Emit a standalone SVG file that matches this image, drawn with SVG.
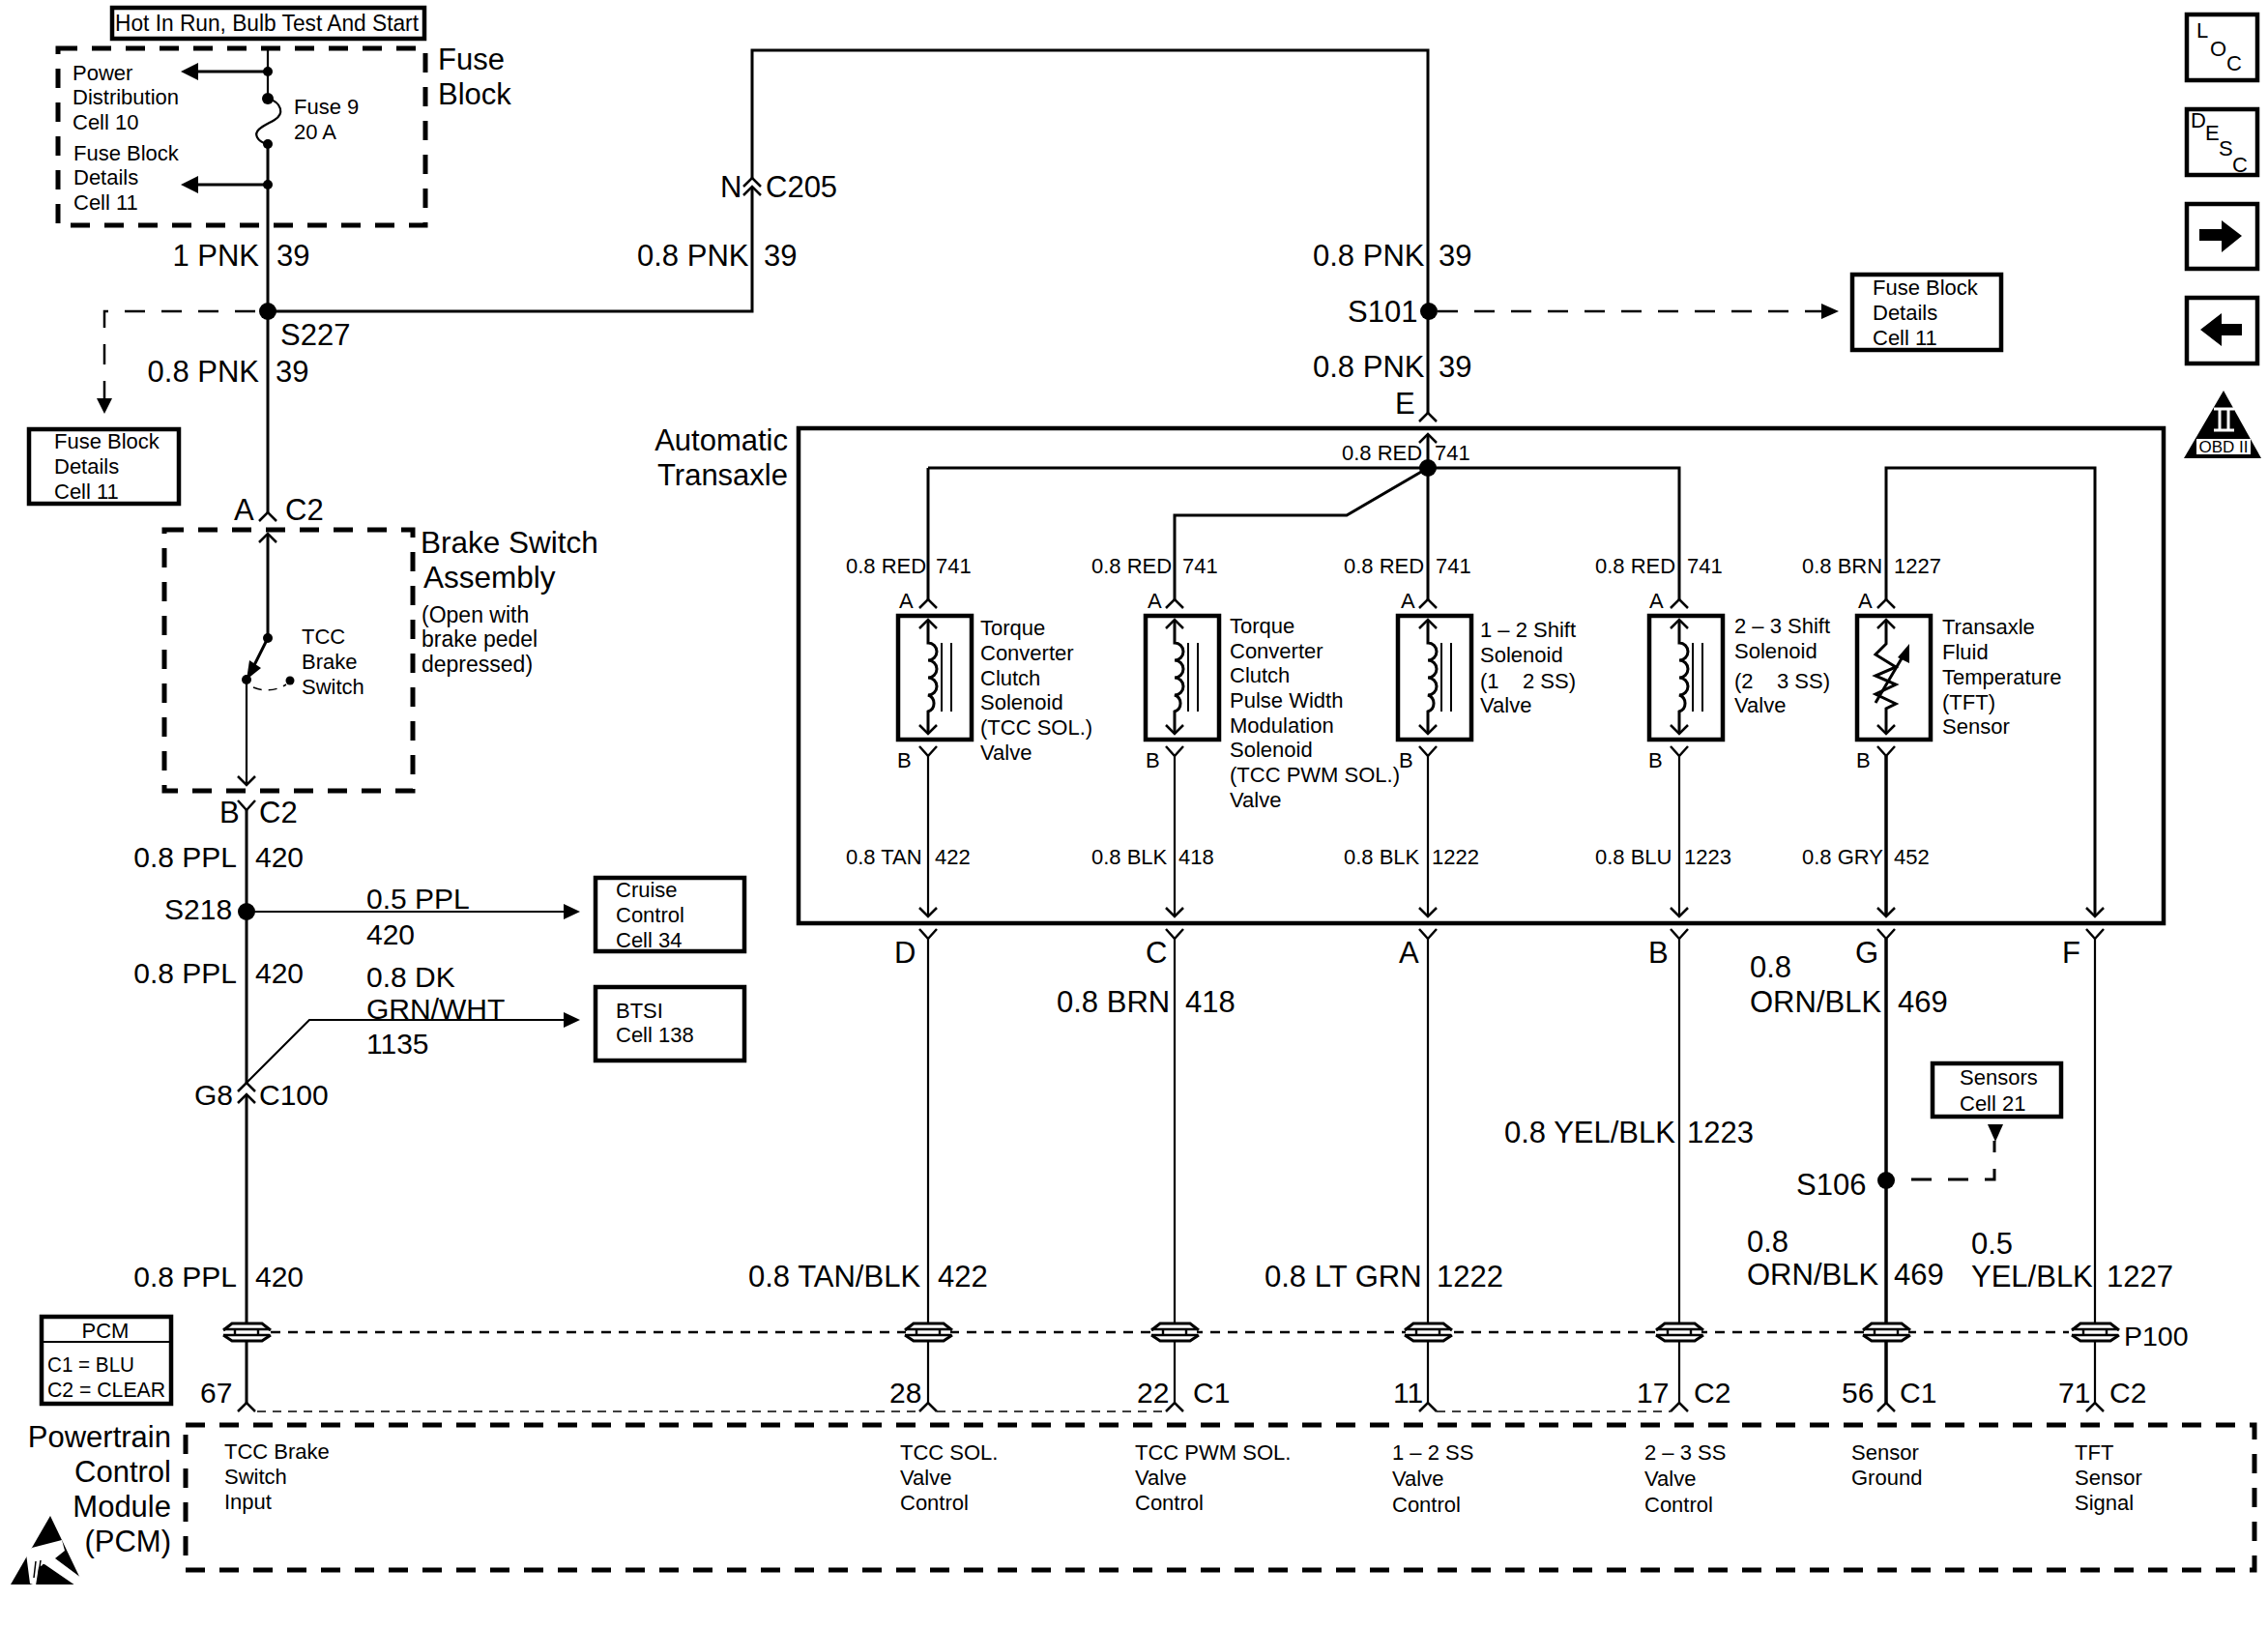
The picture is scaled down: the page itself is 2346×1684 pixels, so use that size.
<svg xmlns="http://www.w3.org/2000/svg" width="2346" height="1684" viewBox="0 0 2346 1684">
<style>
text{font-family:"Liberation Sans",Arial,sans-serif;fill:#000}
.b{font-size:31px}
.c{font-size:30px}
.s{font-size:22px}
.m{font-size:23px}
.i{font-size:22px}
.e{text-anchor:end}
.w{fill:none;stroke:#000;stroke-width:3}
.t{fill:none;stroke:#000;stroke-width:2.2}
.k{fill:none;stroke:#000;stroke-width:3.5}
.box{fill:none;stroke:#000;stroke-width:4.5}
.dash{fill:none;stroke:#000;stroke-width:5;stroke-dasharray:20 15}
.d2{fill:none;stroke:#000;stroke-width:2.5;stroke-dasharray:21 17}
.d3{fill:none;stroke:#000;stroke-width:2.5;stroke-dasharray:10 8}
.d4{fill:none;stroke:#000;stroke-width:1.5;stroke-dasharray:9 7}
</style>
<defs>
<path id="ch" d="M-9 9L0 0L9 9" fill="none" stroke="#000" stroke-width="2.5"/>
<path id="up" d="M-9 9L0 0L9 9" fill="none" stroke="#000" stroke-width="2.5"/>
<path id="dn" d="M-9 -9L0 0L9 -9" fill="none" stroke="#000" stroke-width="2.5"/>
<path id="yy" d="M-9 -10L0 0L9 -10" fill="none" stroke="#000" stroke-width="2.5"/>
<g id="coil"><path d="M0 -24V0a9 9 0 0 1 0 18a9 9 0 0 1 0 18a9 9 0 0 1 0 18a9 9 0 0 1 0 17V94" fill="none" stroke="#000" stroke-width="3"/><path d="M14 0V71M24 0V71" fill="none" stroke="#000" stroke-width="2"/></g>
<g id="splice"><rect x="-23" y="-8" width="46" height="17" fill="#fff"/><path d="M-24 -2L-15 -9H16L25 -2M-24 3L-15 9H16L25 3" fill="none" stroke="#000" stroke-width="3"/><path d="M-24 -3H24M-24 3H24M-12 -3V3M12 -3V3" fill="none" stroke="#000" stroke-width="2.4"/></g>
</defs>
<rect width="2346" height="1684" fill="#fff"/>

<g id="connectors">
<path class="t" d="M277 50V102"/>
<path class="t" d="M277 102C292 106 294 118 284 124C274 130 262 134 266 142C268 146 272 148 277 149"/>
<path class="w" d="M277 149V322"/>
<path class="w" d="M277 322H778V193M778 184V52H1477V427"/>
<path class="w" d="M277 322V530"/>
<path class="w" d="M277 74H205M277 191H205"/>
<path d="M187 74L205 65V83ZM187 191L205 182V200Z"/>
<path class="d2" d="M264 322H108V412"/>
<path d="M100 412H116L108 428Z"/>
<path class="w" d="M277 552V660"/>
<path class="t" d="M255 703V812"/>
<path class="w" d="M277 660L262 690"/><path d="M255 703L258 683L270 691Z"/>
<path class="d4" d="M262 711Q280 718 296 708"/>
<path class="w" d="M255 838V1120"/>
<path class="t" d="M255 943H583M255 1120L320 1055H583"/>
<path d="M600 943L583 935V951ZM600 1055L583 1047V1063Z"/>
<path class="w" d="M255 1132V1451"/>
<path class="d2" d="M1487 322H1884"/><path d="M1902 322L1884 314V330Z"/>

<path class="w" d="M960 484H1737V620M960 484V620M1477 449V620"/>
<path class="w" d="M1215 620V533H1393L1477 484"/>
<path class="w" d="M2167 948V484H1951V620"/>
<path class="t" d="M960 782V948M960 971V1451M1215 782V948M1215 971V1451M1477 782V948M1477 971V1451M1737 782V948M1737 971V1451"/>
<path class="k" d="M1951 782V948M1951 971V1451"/>
<path class="t" d="M2167 971V1451"/>
<path class="d3" d="M280 1378H2140"/>
<path class="d4" d="M266 1460H951M969 1460H1206M1486 1460H1728"/>
<path class="d2" d="M1977 1220H2063V1180" style="stroke-width:3"/>
<path d="M2056 1163H2072L2064 1181Z"/>
<g>
<use href="#ch" x="277" y="530"/><use href="#up" x="277" y="552"/>
<use href="#dn" x="255" y="812"/><use href="#yy" x="255" y="838"/>
<use href="#ch" x="255" y="1120"/><use href="#ch" x="255" y="1132"/>
<use href="#ch" x="778" y="184"/><use href="#ch" x="778" y="193"/>
<use href="#ch" x="1477" y="427"/><use href="#up" x="1477" y="449"/>
<use href="#ch" x="960" y="620"/><use href="#ch" x="1215" y="620"/><use href="#ch" x="1477" y="620"/><use href="#ch" x="1737" y="620"/><use href="#ch" x="1951" y="620"/>
<use href="#yy" x="960" y="782"/><use href="#yy" x="1215" y="782"/><use href="#yy" x="1477" y="782"/><use href="#yy" x="1737" y="782"/><use href="#yy" x="1951" y="782"/>
<use href="#dn" x="960" y="948"/><use href="#dn" x="1215" y="948"/><use href="#dn" x="1477" y="948"/><use href="#dn" x="1737" y="948"/><use href="#dn" x="1951" y="948"/><use href="#dn" x="2167" y="948"/>
<use href="#yy" x="960" y="971"/><use href="#yy" x="1215" y="971"/><use href="#yy" x="1477" y="971"/><use href="#yy" x="1737" y="971"/><use href="#yy" x="1951" y="971"/><use href="#yy" x="2167" y="971"/>
<use href="#ch" x="255" y="1451"/><use href="#ch" x="960" y="1451"/><use href="#ch" x="1215" y="1451"/><use href="#ch" x="1477" y="1451"/><use href="#ch" x="1737" y="1451"/><use href="#ch" x="1951" y="1451"/><use href="#ch" x="2167" y="1451"/>
<use href="#splice" x="255" y="1378"/><use href="#splice" x="960" y="1378"/><use href="#splice" x="1215" y="1378"/><use href="#splice" x="1477" y="1378"/><use href="#splice" x="1737" y="1378"/><use href="#splice" x="1951" y="1378"/><use href="#splice" x="2167" y="1378"/>
</g>
<g>
<circle cx="277" cy="74" r="5"/><circle cx="277" cy="102" r="6"/><circle cx="277" cy="149" r="5"/><circle cx="277" cy="191" r="5"/>
<circle cx="277" cy="322" r="9"/><circle cx="1478" cy="322" r="9"/><circle cx="255" cy="943" r="9"/><circle cx="1477" cy="484" r="9"/><circle cx="1951" cy="1221" r="9"/>
<circle cx="277" cy="660" r="5"/><circle cx="255" cy="703" r="5"/><circle cx="300" cy="704" r="4.5"/>
</g>
</g>

<g id="wire-labels">
<text class="b e" x="268" y="275">1 PNK</text><text class="b" x="286" y="275">39</text>
<text class="b e" x="268" y="395">0.8 PNK</text><text class="b" x="285" y="395">39</text>
<text class="b" x="290" y="357">S227</text>
<text class="b" x="242" y="538">A</text><text class="b" x="295" y="538">C2</text>
<text class="b" x="227" y="851">B</text><text class="b" x="268" y="851">C2</text>
<text class="c e" x="245" y="897">0.8 PPL</text><text class="c" x="264" y="897">420</text>
<text class="c" x="170" y="951">S218</text>
<text class="c" x="379" y="940">0.5 PPL</text><text class="c" x="379" y="977">420</text>
<text class="c e" x="245" y="1017">0.8 PPL</text><text class="c" x="264" y="1017">420</text>
<text class="c" x="379" y="1021">0.8 DK</text><text class="c" x="379" y="1054">GRN/WHT</text><text class="c" x="379" y="1090">1135</text>
<text class="c" x="201" y="1143">G8</text><text class="c" x="268" y="1143">C100</text>
<text class="c e" x="245" y="1331">0.8 PPL</text><text class="c" x="264" y="1331">420</text>
<text class="b" x="659" y="275">0.8 PNK</text><text class="b" x="790" y="275">39</text>
<text class="b" x="745" y="204">N</text><text class="b" x="792" y="204">C205</text>
<text class="b" x="1358" y="275">0.8 PNK</text><text class="b" x="1488" y="275">39</text>
<text class="b" x="1394" y="333">S101</text>
<text class="b" x="1358" y="390">0.8 PNK</text><text class="b" x="1488" y="390">39</text>
<text class="b" x="1443" y="428">E</text>
<text class="s" x="1388" y="476">0.8 RED</text><text class="s" x="1484" y="476">741</text>
<text class="s" x="875" y="593">0.8 RED</text><text class="s" x="968" y="593">741</text>
<text class="s" x="1129" y="593">0.8 RED</text><text class="s" x="1223" y="593">741</text>
<text class="s" x="1390" y="593">0.8 RED</text><text class="s" x="1485" y="593">741</text>
<text class="s" x="1650" y="593">0.8 RED</text><text class="s" x="1745" y="593">741</text>
<text class="s" x="1864" y="593">0.8 BRN</text><text class="s" x="1959" y="593">1227</text>
<text class="s" x="930" y="629">A</text><text class="s" x="1187" y="629">A</text><text class="s" x="1449" y="629">A</text><text class="s" x="1706" y="629">A</text><text class="s" x="1922" y="629">A</text>
<text class="s" x="928" y="794">B</text><text class="s" x="1185" y="794">B</text><text class="s" x="1447" y="794">B</text><text class="s" x="1705" y="794">B</text><text class="s" x="1920" y="794">B</text>
<text class="s" x="875" y="894">0.8 TAN</text><text class="s" x="967" y="894">422</text>
<text class="s" x="1129" y="894">0.8 BLK</text><text class="s" x="1219" y="894">418</text>
<text class="s" x="1390" y="894">0.8 BLK</text><text class="s" x="1481" y="894">1222</text>
<text class="s" x="1650" y="894">0.8 BLU</text><text class="s" x="1742" y="894">1223</text>
<text class="s" x="1864" y="894">0.8 GRY</text><text class="s" x="1959" y="894">452</text>
<text class="b" x="925" y="996">D</text><text class="b" x="1185" y="996">C</text><text class="b" x="1447" y="996">A</text><text class="b" x="1705" y="996">B</text><text class="b" x="1919" y="996">G</text><text class="b" x="2133" y="996">F</text>
<text class="b" x="1093" y="1047">0.8 BRN</text><text class="b" x="1226" y="1047">418</text>
<text class="b" x="1810" y="1011">0.8</text><text class="b" x="1810" y="1047">ORN/BLK</text><text class="b" x="1963" y="1047">469</text>
<text class="b" x="1556" y="1182">0.8 YEL/BLK</text><text class="b" x="1745" y="1182">1223</text>
<text class="b" x="1858" y="1236">S106</text>
<text class="b" x="1807" y="1295">0.8</text><text class="b" x="1807" y="1329">ORN/BLK</text><text class="b" x="1959" y="1329">469</text>
<text class="b" x="2039" y="1297">0.5</text><text class="b" x="2039" y="1331">YEL/BLK</text><text class="b" x="2179" y="1331">1227</text>
<text class="b" x="774" y="1331">0.8 TAN/BLK</text><text class="b" x="970" y="1331">422</text>
<text class="b" x="1308" y="1331">0.8 LT GRN</text><text class="b" x="1486" y="1331">1222</text>
<text x="2197" y="1392" style="font-size:28.5px">P100</text>
<text class="c" x="207" y="1451">67</text><text class="c" x="920" y="1451">28</text><text class="c" x="1176" y="1451">22</text><text class="c" x="1234" y="1451">C1</text><text class="c" x="1441" y="1451">11</text><text class="c" x="1693" y="1451">17</text><text class="c" x="1752" y="1451">C2</text><text class="c" x="1905" y="1451">56</text><text class="c" x="1965" y="1451">C1</text><text class="c" x="2129" y="1451">71</text><text class="c" x="2182" y="1451">C2</text>
</g>

<g id="hot-label"><rect class="box" x="116" y="8" width="323" height="32"/><text class="m" x="119" y="32" textLength="314" lengthAdjust="spacingAndGlyphs">Hot In Run, Bulb Test And Start</text></g>
<g id="fuse-block"><rect class="dash" x="60" y="50" width="380" height="183"/>
<text class="s" x="75" y="83">Power</text><text class="s" x="75" y="108">Distribution</text><text class="s" x="75" y="134">Cell 10</text>
<text class="s" x="76" y="166">Fuse Block</text><text class="s" x="76" y="191">Details</text><text class="s" x="76" y="217">Cell 11</text>
<text class="s" x="304" y="118">Fuse 9</text><text class="s" x="304" y="144">20 A</text>
<text class="b" x="453" y="72">Fuse</text><text class="b" x="453" y="108">Block</text></g>
<g id="ref-fuse-left"><rect class="box" x="30" y="444" width="155" height="77"/><text class="s" x="56" y="464">Fuse Block</text><text class="s" x="56" y="490">Details</text><text class="s" x="56" y="516">Cell 11</text></g>
<g id="ref-fuse-right"><rect class="box" x="1916" y="284" width="154" height="78"/><text class="s" x="1937" y="305">Fuse Block</text><text class="s" x="1937" y="331">Details</text><text class="s" x="1937" y="357">Cell 11</text></g>
<g id="brake-switch"><rect class="dash" x="170" y="548" width="257" height="270"/>
<text x="435" y="572" style="font-size:31.5px">Brake Switch</text><text x="438" y="608" style="font-size:31.5px">Assembly</text>
<text class="m" x="436" y="644">(Open with</text><text class="m" x="436" y="669">brake pedel</text><text class="m" x="436" y="695">depressed)</text>
<text class="s" x="312" y="666">TCC</text><text class="s" x="312" y="692">Brake</text><text class="s" x="312" y="718">Switch</text></g>
<g id="ref-cruise"><rect class="box" x="616" y="908" width="154" height="76"/><text class="s" x="637" y="928">Cruise</text><text class="s" x="637" y="954">Control</text><text class="s" x="637" y="980">Cell 34</text></g>
<g id="ref-btsi"><rect class="box" x="616" y="1021" width="154" height="76"/><text class="s" x="637" y="1053">BTSI</text><text class="s" x="637" y="1078">Cell 138</text></g>
<g id="ref-sensors"><rect class="box" x="1999" y="1100" width="133" height="55"/><text class="s" x="2027" y="1122">Sensors</text><text class="s" x="2027" y="1149">Cell 21</text></g>

<g id="transaxle"><rect class="box" x="826" y="443" width="1412" height="512"/>
<text class="b e" x="815" y="466">Automatic</text><text class="b e" x="815" y="502">Transaxle</text></g>
<g id="sol-tcc"><rect class="box" x="929" y="637" width="76" height="128"/><use href="#coil" x="960" y="665"/><use href="#up" x="960" y="641"/><use href="#dn" x="960" y="759"/>
<text class="s" x="1014" y="657">Torque</text><text class="s" x="1014" y="683">Converter</text><text class="s" x="1014" y="709">Clutch</text><text class="s" x="1014" y="734">Solenoid</text><text class="s" x="1014" y="760">(TCC SOL.)</text><text class="s" x="1014" y="786">Valve</text></g>
<g id="sol-pwm"><rect class="box" x="1185" y="637" width="76" height="128"/><use href="#coil" x="1215" y="665"/><use href="#up" x="1215" y="641"/><use href="#dn" x="1215" y="759"/>
<text class="s" x="1272" y="655">Torque</text><text class="s" x="1272" y="681">Converter</text><text class="s" x="1272" y="706">Clutch</text><text class="s" x="1272" y="732">Pulse Width</text><text class="s" x="1272" y="758">Modulation</text><text class="s" x="1272" y="783">Solenoid</text><text class="s" x="1272" y="809">(TCC PWM SOL.)</text><text class="s" x="1272" y="835">Valve</text></g>
<g id="sol-12"><rect class="box" x="1446" y="637" width="76" height="128"/><use href="#coil" x="1477" y="665"/><use href="#up" x="1477" y="641"/><use href="#dn" x="1477" y="759"/>
<text class="s" x="1531" y="659">1 – 2 Shift</text><text class="s" x="1531" y="685">Solenoid</text><text class="s" x="1531" y="712" xml:space="preserve">(1    2 SS)</text><text class="s" x="1531" y="737">Valve</text></g>
<g id="sol-23"><rect class="box" x="1706" y="637" width="76" height="128"/><use href="#coil" x="1737" y="665"/><use href="#up" x="1737" y="641"/><use href="#dn" x="1737" y="759"/>
<text class="s" x="1794" y="655">2 – 3 Shift</text><text class="s" x="1794" y="681">Solenoid</text><text class="s" x="1794" y="712" xml:space="preserve">(2    3 SS)</text><text class="s" x="1794" y="737">Valve</text></g>
<g id="sensor-tft"><rect class="box" x="1921" y="637" width="76" height="128"/>
<path class="w" d="M1951 641V666L1940 677L1961 690L1940 699L1961 708L1940 718L1961 728L1951 733V759"/>
<path class="w" d="M1940 727L1970 676"/><path d="M1975 666L1975 686L1963 680Z"/>
<use href="#up" x="1951" y="641"/><use href="#dn" x="1951" y="759"/>
<text class="s" x="2009" y="656">Transaxle</text><text class="s" x="2009" y="682">Fluid</text><text class="s" x="2009" y="708">Temperature</text><text class="s" x="2009" y="734">(TFT)</text><text class="s" x="2009" y="759">Sensor</text></g>

<g id="pcm-legend"><rect class="box" x="43" y="1362" width="134" height="90"/><path class="t" d="M43 1388H177"/>
<text class="s" x="109" y="1384" text-anchor="middle">PCM</text><text class="s" x="49" y="1419" textLength="90" lengthAdjust="spacingAndGlyphs">C1 = BLU</text><text class="s" x="49" y="1445" textLength="122" lengthAdjust="spacingAndGlyphs">C2 = CLEAR</text></g>
<g id="pcm"><rect class="dash" x="192" y="1474" width="2140" height="150"/>
<text class="b e" x="177" y="1497">Powertrain</text><text class="b e" x="177" y="1533">Control</text><text class="b e" x="177" y="1569">Module</text><text class="b e" x="177" y="1605">(PCM)</text>
<text class="s" x="232" y="1509">TCC Brake</text><text class="s" x="232" y="1535">Switch</text><text class="s" x="232" y="1561">Input</text>
<text class="s" x="931" y="1510">TCC SOL.</text><text class="s" x="931" y="1536">Valve</text><text class="s" x="931" y="1562">Control</text>
<text class="s" x="1174" y="1510">TCC PWM SOL.</text><text class="s" x="1174" y="1536">Valve</text><text class="s" x="1174" y="1562">Control</text>
<text class="s" x="1440" y="1510">1 – 2 SS</text><text class="s" x="1440" y="1537">Valve</text><text class="s" x="1440" y="1564">Control</text>
<text class="s" x="1701" y="1510">2 – 3 SS</text><text class="s" x="1701" y="1537">Valve</text><text class="s" x="1701" y="1564">Control</text>
<text class="s" x="1915" y="1510">Sensor</text><text class="s" x="1915" y="1536">Ground</text>
<text class="s" x="2146" y="1510">TFT</text><text class="s" x="2146" y="1536">Sensor</text><text class="s" x="2146" y="1562">Signal</text>
</g>
<g id="esd"><path d="M52 1568L11 1639H86Z"/><path fill="#fff" d="M33 1601L64 1593L67 1604L57 1612L88 1635L90 1643L78 1640L46 1618L40 1621L37 1640L31 1638L27 1607Z"/><path d="M37 1615L35 1632M42 1614L40 1628M45 1618L43 1626" stroke="#000" stroke-width="1.5" fill="none"/></g>

<g id="icon-loc"><rect class="box" x="2262" y="15" width="73" height="68"/><text class="i" x="2272" y="39">L</text><text class="i" x="2286" y="58">O</text><text class="i" x="2303" y="73">C</text></g>
<g id="icon-desc"><rect class="box" x="2262" y="113" width="73" height="68"/><text class="i" x="2266" y="132">D</text><text class="i" x="2281" y="145">E</text><text class="i" x="2295" y="161">S</text><text class="i" x="2309" y="178">C</text></g>
<g id="icon-next"><rect class="box" x="2262" y="211" width="73" height="67"/><path d="M2275 237H2298V228L2319 244L2298 261V249H2275Z"/></g>
<g id="icon-prev"><rect class="box" x="2262" y="308" width="73" height="68"/><path d="M2319 335H2298V324L2276 341L2298 358V347H2319Z"/></g>
<g id="icon-obd"><path d="M2300 404L2339 474H2259Z"/><rect x="2272" y="454" width="56" height="16" fill="#fff"/><path d="M2290 423H2311M2296 423V444M2305 423V444M2290 445H2311" stroke="#fff" stroke-width="3" fill="none"/><text x="2300" y="468" text-anchor="middle" style="font-size:17px">OBD II</text></g>
</svg>
